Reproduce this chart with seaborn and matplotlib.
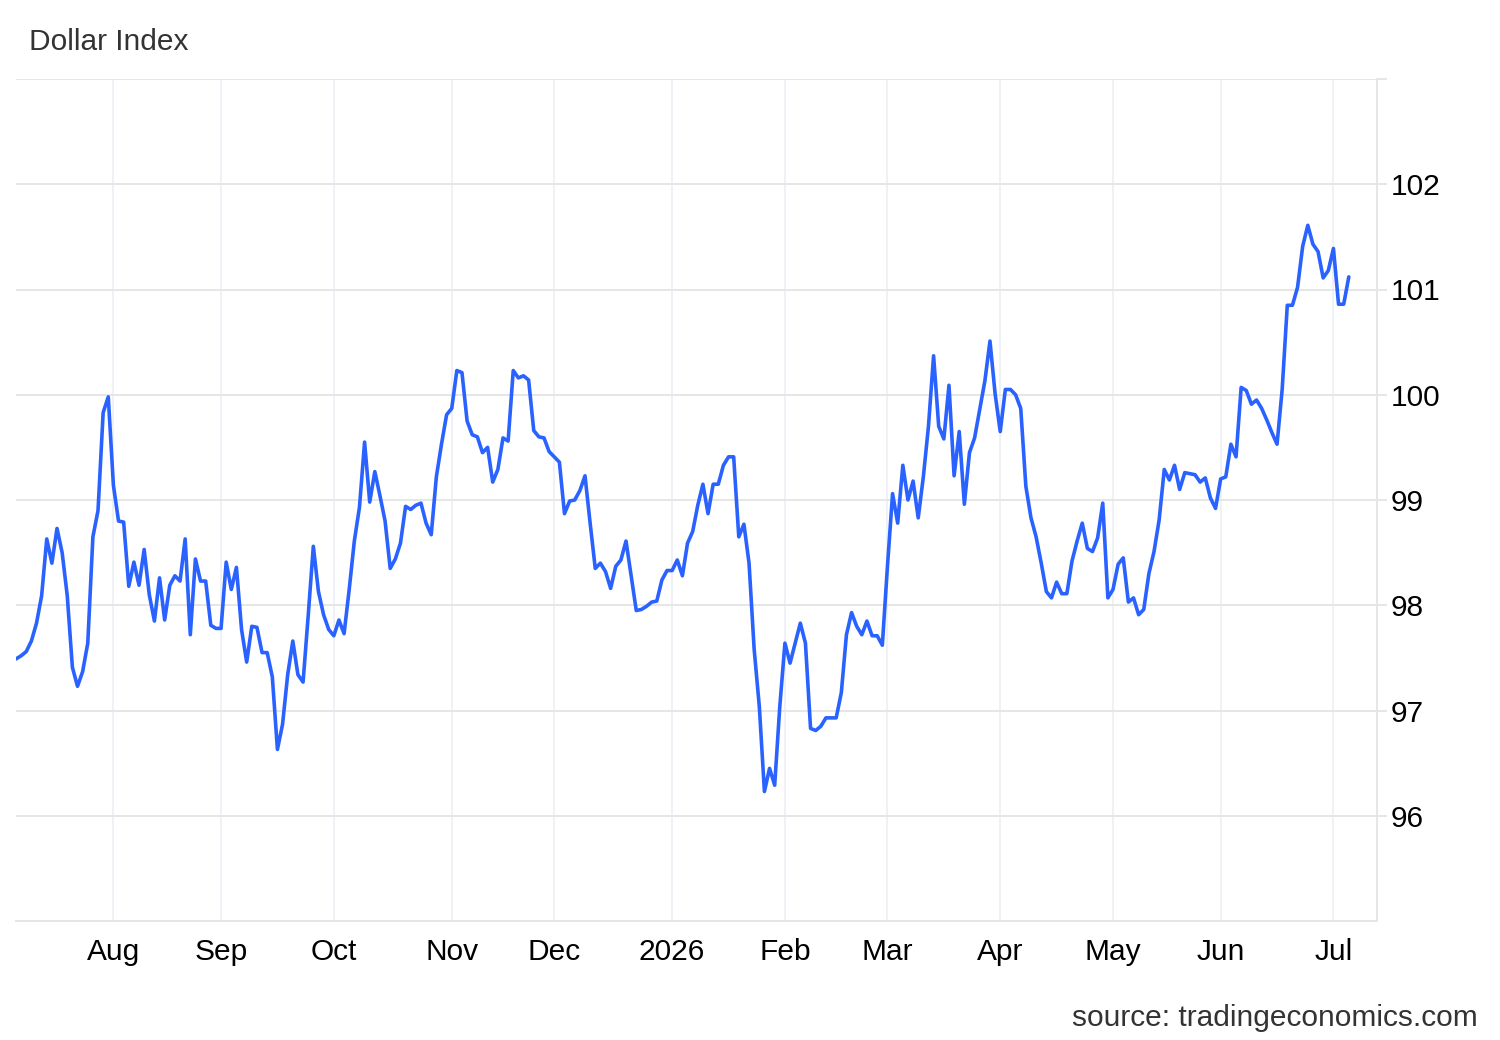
import numpy as np
import pandas as pd
import seaborn as sns
import matplotlib.pyplot as plt

# === Datos: índice del dólar, cierres diarios (días hábiles) ===
start_date = '2025-07-07'
values = [
    97.49, 97.52, 97.56, 97.66, 97.83, 98.09, 98.63, 98.40, 98.73, 98.50,
    98.09, 97.41, 97.23, 97.37, 97.64, 98.65, 98.90, 99.83, 99.98, 99.14,
    98.80, 98.79, 98.18, 98.41, 98.19, 98.53, 98.10, 97.85, 98.26, 97.86,
    98.19, 98.28, 98.23, 98.63, 97.72, 98.44, 98.23, 98.23, 97.81, 97.78,
    97.78, 98.41, 98.15, 98.36, 97.77, 97.46, 97.80, 97.79, 97.55, 97.55,
    97.32, 96.63, 96.87, 97.34, 97.66, 97.34, 97.27, 97.90, 98.56, 98.13,
    97.91, 97.77, 97.71, 97.86, 97.73, 98.15, 98.61, 98.93, 99.55, 98.98,
    99.27, 99.04, 98.80, 98.35, 98.44, 98.59, 98.94, 98.91, 98.95, 98.97,
    98.78, 98.67, 99.22, 99.53, 99.81, 99.87, 100.23, 100.21, 99.75, 99.62,
    99.60, 99.45, 99.50, 99.17, 99.29, 99.59, 99.56, 100.23, 100.16, 100.18,
    100.14, 99.66, 99.60, 99.59, 99.46, 99.41, 99.36, 98.87, 98.99, 99.00,
    99.09, 99.23, 98.78, 98.35, 98.40, 98.32, 98.16, 98.37, 98.43, 98.61,
    98.28, 97.95, 97.96, 97.99, 98.03, 98.04, 98.24, 98.33, 98.33, 98.43,
    98.28, 98.59, 98.70, 98.95, 99.15, 98.87, 99.15, 99.15, 99.33, 99.41,
    99.41, 98.65, 98.77, 98.40, 97.58, 97.04, 96.23, 96.45, 96.29, 97.04,
    97.64, 97.45, 97.64, 97.83, 97.64, 96.83, 96.81, 96.85, 96.93, 96.93,
    96.93, 97.17, 97.72, 97.93, 97.80, 97.72, 97.85, 97.71, 97.71, 97.62,
    98.37, 99.06, 98.78, 99.33, 99.00, 99.18, 98.83, 99.22, 99.70, 100.37,
    99.70, 99.58, 100.09, 99.23, 99.65, 98.96, 99.45, 99.59, 99.86, 100.13,
    100.51, 100.01, 99.65, 100.05, 100.05, 100.00, 99.87, 99.13, 98.83, 98.65,
    98.40, 98.13, 98.07, 98.22, 98.11, 98.11, 98.42, 98.61, 98.78, 98.54,
    98.51, 98.64, 98.97, 98.07, 98.15, 98.39, 98.45, 98.03, 98.07, 97.91,
    97.96, 98.30, 98.51, 98.81, 99.29, 99.19, 99.33, 99.10, 99.26, 99.25,
    99.24, 99.17, 99.21, 99.02, 98.92, 99.20, 99.22, 99.53, 99.41, 100.07,
    100.04, 99.91, 99.95, 99.87, 99.76, 99.64, 99.53, 100.05, 100.85, 100.85,
    101.02, 101.41, 101.61, 101.43, 101.36, 101.11, 101.18, 101.39, 100.86, 100.86,
    101.12,
]
y_ticks = [96, 97, 98, 99, 100, 101, 102, 103]

dates = pd.bdate_range(start_date, periods=len(values))
df = pd.DataFrame({'pos': np.arange(len(values)), 'value': values, 'date': dates})

# === Estilo ===
sns.set_style('white')
plt.rcParams['font.family'] = ['Liberation Sans', 'DejaVu Sans']

grid_h = '#e6e6e6'
grid_v = '#eef1f5'
fs = 21.5

fig = plt.figure(figsize=(15, 10.4), dpi=100)
ax = fig.add_axes([16 / 1500, 1 - 921 / 1040, (1377 - 16) / 1500, (921 - 79) / 1040])

sns.lineplot(data=df, x='pos', y='value', ax=ax, color='#2962ff', linewidth=2.6)

# ticks al inicio de cada mes
month_start = df.index[df['date'].dt.month != df['date'].dt.month.shift()][1:]
labels = ['2026' if d.month == 1 else d.strftime('%b') for d in df.loc[month_start, 'date']]
ax.set_xticks(month_start)
ax.set_xticklabels(labels)
ax.set_xlim(0, 265.5)
ax.set_ylim(95, 103)
ax.set_yticks(y_ticks)
ax.set_yticklabels([str(v) for v in y_ticks[:-1]] + [''])
ax.yaxis.tick_right()

ax.set_axisbelow(True)
ax.grid(axis='y', color=grid_h, lw=1.4)
ax.grid(axis='x', color=grid_v, lw=1.4)
ax.tick_params(axis='x', length=0, pad=12.5, labelsize=fs, labelcolor='black')
ax.tick_params(axis='y', length=7, width=1.4, color=grid_h, pad=3, labelsize=fs, labelcolor='black')

for side in ['left', 'top']:
    ax.spines[side].set_visible(False)
for side in ['right', 'bottom']:
    ax.spines[side].set_color(grid_h)
    ax.spines[side].set_linewidth(1.4)

ax.set_xlabel('')
ax.set_ylabel('')

fig.text(29 / 1500, 1 - 42 / 1040, 'Dollar Index', fontsize=fs, color='#333333', va='center')
fig.text(1478 / 1500, 1 - 1018 / 1040, 'source: tradingeconomics.com',
         fontsize=fs, color='#333333', ha='right', va='center')

fig.savefig('out.png', dpi=100)
